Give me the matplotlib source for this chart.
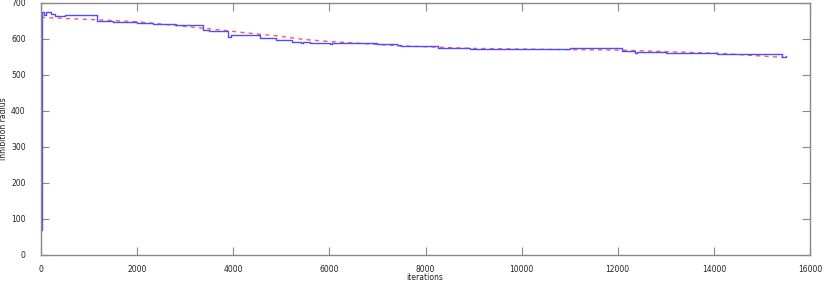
import matplotlib
matplotlib.use("Agg")
import matplotlib.pyplot as plt

# Blue step series (iteration, inhibition radius)
blue_x = [0, 30, 60, 100, 200, 300, 500, 1165, 1300, 1500, 2000, 2330, 2800,
          3370, 3500, 3900, 3960, 4200, 4560, 4890, 5220, 5400, 5450, 5600,
          6010, 6050, 6490, 7000, 7400, 7470, 7500, 8260, 8930, 9500, 10600,
          11000, 12090, 12200, 12360, 12400, 13000, 14070, 14500,
          15000, 15300, 15420, 15500]
blue_y = [70, 676, 668, 675, 670, 664, 667, 651, 649, 648, 645, 641, 639,
          625, 622, 606, 612, 611, 602, 598, 592, 588, 592, 590,
          587, 590, 588, 586, 582, 583, 581, 576, 573, 573, 572,
          574, 566, 568, 560, 563, 561, 559, 558,
          558, 557, 551, 554]

# Red dashed fit
red_x = [0, 1230, 2000, 3370, 3930, 4560, 4890, 5450, 6010, 7470, 8930,
         10600, 12090, 14130, 15420]
red_y = [660, 653, 648, 630, 622, 613, 609, 599, 593, 581, 574,
         571, 569, 560, 549]

xticks = [0, 2000, 4000, 6000, 8000, 10000, 12000, 14000, 16000]
yticks = [0, 100, 200, 300, 400, 500, 600, 700]

fig = plt.figure(figsize=(8.3, 2.83), dpi=100)
ax = fig.add_axes([41/830, 28/283, (810-41)/830, (255-3)/283])

ax.plot(red_x, red_y, color=(1.0, 0.35, 0.35), lw=1.0, ls=(0, (3, 3)))
ax.plot(blue_x, blue_y, color=(0.3, 0.3, 1.0), lw=1.0, drawstyle='steps-post')

ax.set_xlim(0, 16000)
ax.set_ylim(0, 700)
ax.set_xticks(xticks)
ax.set_yticks(yticks)
ax.tick_params(direction='in', length=6, width=0.8, color='#888888',
               labelsize=5.5, labelcolor='#222222', top=True, right=True,
               labeltop=False, labelright=False)
ax.tick_params(axis='x', pad=7)
ax.tick_params(axis='y', pad=11)
for s in ax.spines.values():
    s.set_color('#888888')
    s.set_linewidth(1.0)

fig.text(425/830, 1 - 278/283, 'iterations', fontsize=5.5, color='#222222',
         ha='center', va='center')
fig.text(4/830, 1 - 129/283, 'inhibition radius', fontsize=5.5,
         color='#222222', ha='center', va='center', rotation=90)

fig.savefig('out.png', dpi=100)
